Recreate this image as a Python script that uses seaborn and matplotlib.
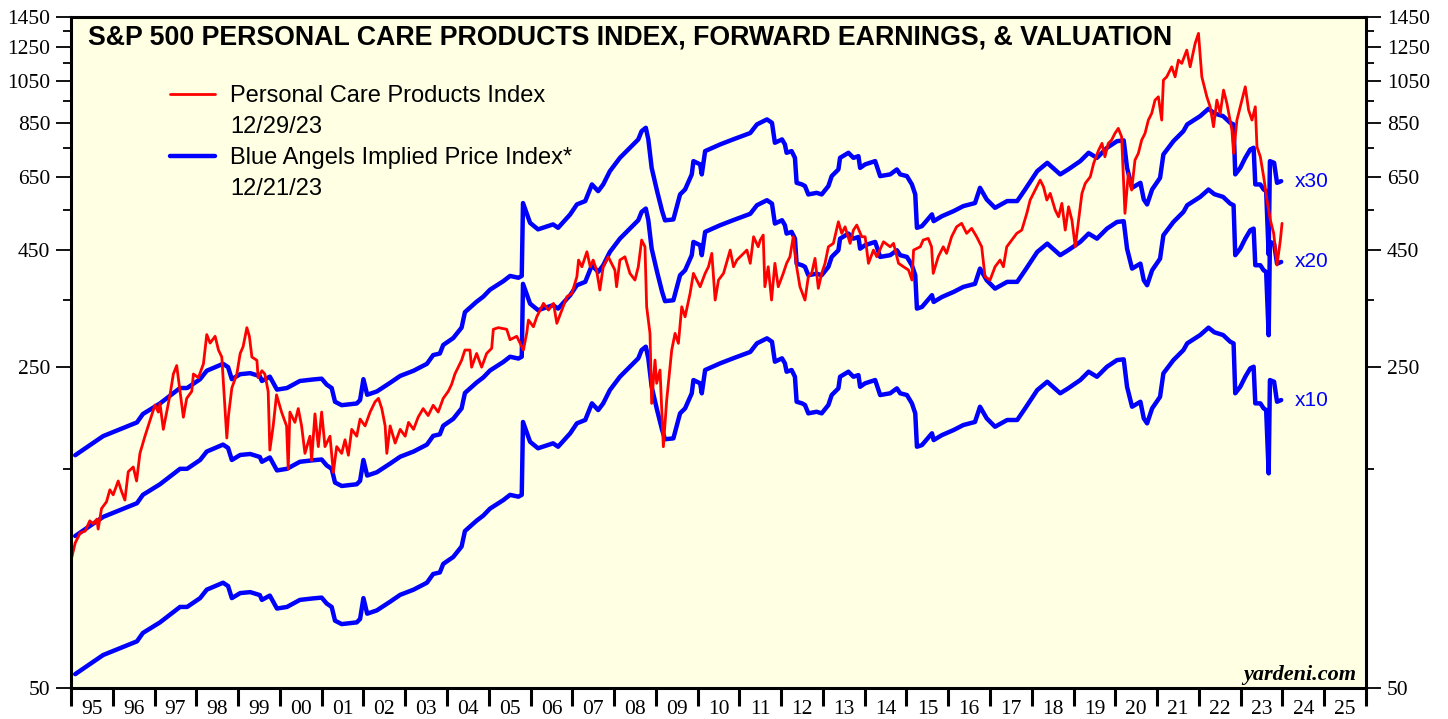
import numpy as np
import pandas as pd
import matplotlib
matplotlib.use('Agg')
import matplotlib.pyplot as plt
import seaborn as sns
from matplotlib.lines import Line2D
from matplotlib.ticker import FixedLocator, FuncFormatter, NullFormatter

# S&P 500 Personal Care Products index (decimal years)
red_year = [
    1995.02, 1995.10, 1995.22, 1995.34, 1995.45, 1995.53, 1995.62, 1995.65, 1995.73, 1995.85,
    1995.93, 1996.01, 1996.13, 1996.21, 1996.29, 1996.37, 1996.49, 1996.57, 1996.65, 1996.77,
    1996.85, 1997.01, 1997.09, 1997.13, 1997.21, 1997.29, 1997.37, 1997.45, 1997.53, 1997.61,
    1997.69, 1997.77, 1997.89, 1997.93, 1998.05, 1998.17, 1998.25, 1998.33, 1998.45, 1998.53,
    1998.61, 1998.69, 1998.73, 1998.77, 1998.85, 1998.97, 1999.05, 1999.12, 1999.21, 1999.27,
    1999.33, 1999.45, 1999.48, 1999.57, 1999.64, 1999.72, 1999.76, 1999.84, 1999.92, 2000.04,
    2000.16, 2000.20, 2000.24, 2000.36, 2000.44, 2000.52, 2000.60, 2000.72, 2000.76, 2000.84,
    2000.92, 2001.00, 2001.08, 2001.20, 2001.28, 2001.36, 2001.48, 2001.56, 2001.64, 2001.72,
    2001.84, 2001.92, 2002.04, 2002.16, 2002.28, 2002.36, 2002.44, 2002.52, 2002.56, 2002.64,
    2002.76, 2002.88, 2003.00, 2003.08, 2003.20, 2003.31, 2003.43, 2003.55, 2003.67, 2003.79,
    2003.91, 2004.03, 2004.11, 2004.19, 2004.27, 2004.35, 2004.43, 2004.55, 2004.59, 2004.71,
    2004.83, 2004.95, 2005.07, 2005.11, 2005.23, 2005.43, 2005.51, 2005.67, 2005.75, 2005.83,
    2005.91, 2005.95, 2006.07, 2006.15, 2006.31, 2006.43, 2006.55, 2006.63, 2006.75, 2006.87,
    2006.99, 2007.11, 2007.15, 2007.23, 2007.35, 2007.43, 2007.50, 2007.58, 2007.66, 2007.74,
    2007.86, 2007.94, 2008.02, 2008.06, 2008.14, 2008.26, 2008.38, 2008.50, 2008.58, 2008.66,
    2008.74, 2008.78, 2008.86, 2008.90, 2008.98, 2009.02, 2009.10, 2009.18, 2009.26, 2009.38,
    2009.46, 2009.54, 2009.62, 2009.70, 2009.82, 2009.90, 2010.06, 2010.18, 2010.26, 2010.34,
    2010.42, 2010.50, 2010.62, 2010.78, 2010.86, 2010.94, 2011.02, 2011.18, 2011.26, 2011.34,
    2011.45, 2011.50, 2011.57, 2011.61, 2011.69, 2011.77, 2011.85, 2011.93, 2012.05, 2012.13,
    2012.21, 2012.29, 2012.37, 2012.45, 2012.57, 2012.65, 2012.73, 2012.81, 2012.89, 2012.97,
    2013.05, 2013.13, 2013.25, 2013.37, 2013.45, 2013.53, 2013.65, 2013.73, 2013.81, 2013.93,
    2014.01, 2014.09, 2014.21, 2014.29, 2014.45, 2014.61, 2014.69, 2014.81, 2014.93, 2015.05,
    2015.13, 2015.17, 2015.33, 2015.40, 2015.52, 2015.60, 2015.64, 2015.76, 2015.88, 2015.96,
    2016.08, 2016.20, 2016.32, 2016.44, 2016.56, 2016.68, 2016.80, 2016.88, 2017.00, 2017.12,
    2017.24, 2017.32, 2017.40, 2017.52, 2017.64, 2017.76, 2017.88, 2017.96, 2018.08, 2018.20,
    2018.28, 2018.36, 2018.44, 2018.56, 2018.64, 2018.72, 2018.80, 2018.88, 2018.96, 2019.04,
    2019.12, 2019.20, 2019.28, 2019.40, 2019.48, 2019.60, 2019.68, 2019.75, 2019.83, 2019.91,
    2019.99, 2020.07, 2020.15, 2020.23, 2020.31, 2020.39, 2020.47, 2020.55, 2020.63, 2020.71,
    2020.79, 2020.87, 2020.95, 2021.03, 2021.11, 2021.15, 2021.23, 2021.35, 2021.43, 2021.51,
    2021.59, 2021.71, 2021.79, 2021.91, 2021.99, 2022.07, 2022.19, 2022.27, 2022.35, 2022.43,
    2022.51, 2022.59, 2022.67, 2022.79, 2022.83, 2022.91, 2023.03, 2023.11, 2023.19, 2023.27,
    2023.35, 2023.39, 2023.47, 2023.55, 2023.63, 2023.71, 2023.79, 2023.87, 2023.95, 2023.99,
]
red_price = [
    96.5, 103.5, 108.9, 109.9, 115.7, 113.9, 116.7, 111.0, 123.0, 127.3,
    135.2, 131.8, 141.3, 134.1, 128.4, 148.0, 151.6, 141.3, 162.3, 176.9,
    186.3, 206.9, 199.7, 208.5, 183.1, 199.7, 217.7, 241.7, 252.2, 221.5,
    194.6, 213.9, 221.5, 241.7, 237.3, 254.4, 294.6, 282.3, 292.1, 272.6,
    263.2, 199.7, 175.3, 196.2, 225.3, 241.7, 268.0, 277.3, 305.0, 292.1,
    263.2, 258.9, 237.3, 245.7, 241.7, 221.5, 165.0, 186.3, 217.7, 199.7,
    186.3, 150.0, 199.7, 189.6, 203.2, 186.3, 162.3, 176.9, 156.7, 197.9,
    167.9, 199.7, 167.9, 176.9, 147.5, 167.9, 162.3, 173.8, 160.8, 183.1,
    176.9, 192.8, 186.3, 199.7, 210.3, 213.9, 203.2, 186.3, 162.3, 186.3,
    170.9, 183.1, 176.9, 189.6, 183.1, 194.6, 203.2, 196.2, 206.6, 199.7,
    213.9, 221.5, 229.3, 241.7, 250.1, 258.9, 272.6, 272.6, 250.1, 268.0,
    250.1, 268.0, 274.9, 302.5, 305.0, 302.5, 287.1, 292.1, 282.2, 272.6,
    297.2, 316.9, 306.4, 322.1, 344.5, 333.2, 344.5, 311.7, 333.2, 356.1,
    362.3, 393.8, 428.2, 414.0, 446.4, 414.0, 428.2, 407.2, 368.4, 414.0,
    435.3, 421.2, 407.2, 374.5, 428.2, 435.3, 400.5, 387.3, 414.0, 473.4,
    457.7, 338.7, 296.4, 208.6, 259.2, 230.7, 246.6, 167.8, 212.1, 272.6,
    296.4, 281.9, 338.7, 322.1, 362.3, 400.5, 374.5, 400.5, 414.0, 442.8,
    350.3, 387.3, 400.5, 450.2, 414.0, 428.2, 435.3, 450.2, 421.2, 481.3,
    457.7, 473.4, 485.4, 374.5, 414.0, 350.3, 421.2, 374.5, 400.5, 421.2,
    435.3, 481.3, 414.0, 374.5, 350.3, 393.8, 400.5, 431.8, 371.5, 400.5,
    421.2, 457.7, 465.6, 518.9, 489.6, 506.0, 465.6, 497.7, 510.4, 481.3,
    481.3, 421.2, 450.2, 435.3, 469.3, 457.7, 465.6, 421.2, 414.0, 407.2,
    387.3, 450.2, 457.7, 473.4, 477.4, 457.7, 400.5, 435.3, 457.7, 442.8,
    481.3, 506.0, 514.8, 489.6, 502.0, 481.3, 457.7, 393.8, 387.3, 414.0,
    428.2, 414.0, 457.7, 473.4, 489.6, 497.7, 541.3, 578.6, 608.4, 639.7,
    618.5, 578.6, 598.4, 550.3, 532.1, 569.1, 497.7, 559.5, 523.3, 457.7,
    523.3, 598.4, 629.2, 650.4, 695.6, 743.6, 769.0, 719.1, 769.0, 781.9,
    808.6, 829.2, 794.9, 541.3, 661.5, 608.4, 707.2, 731.4, 781.9, 808.6,
    864.4, 893.9, 955.6, 971.6, 864.4, 1056.5, 1074.1, 1129.4, 1074.1, 1168.0,
    1148.9, 1228.1, 1129.4, 1270.1, 1335.5, 1074.1, 971.6, 924.0, 835.9, 955.6,
    893.9, 1004.7, 940.0, 822.1, 731.4, 864.4, 955.6, 1021.5, 908.9, 864.4,
    924.0, 756.0, 719.1, 650.4, 578.6, 523.3, 489.6, 417.6, 473.4, 514.8,
]

# forward earnings (the x1 line); the blue lines are this times 10, 20 and 30
eps_year = [
    1995.10, 1995.77, 1996.58, 1996.72, 1997.13, 1997.61, 1997.78, 1998.09, 1998.25, 1998.64,
    1998.76, 1998.85, 1999.05, 1999.29, 1999.52, 1999.57, 1999.76, 1999.93, 2000.17, 2000.48,
    2000.80, 2001.00, 2001.12, 2001.24, 2001.32, 2001.48, 2001.84, 2001.92, 2002.00, 2002.09,
    2002.32, 2002.64, 2002.88, 2003.20, 2003.52, 2003.67, 2003.83, 2003.91, 2004.15, 2004.35,
    2004.43, 2004.71, 2004.87, 2005.03, 2005.35, 2005.51, 2005.71, 2005.79, 2005.82, 2005.99,
    2006.18, 2006.54, 2006.66, 2006.95, 2007.11, 2007.31, 2007.47, 2007.62, 2007.74, 2007.90,
    2008.14, 2008.38, 2008.58, 2008.66, 2008.76, 2008.82, 2008.90, 2009.03, 2009.15, 2009.22,
    2009.42, 2009.58, 2009.70, 2009.86, 2009.90, 2010.06, 2010.10, 2010.18, 2010.54, 2010.85,
    2011.26, 2011.42, 2011.66, 2011.78, 2011.85, 2012.02, 2012.09, 2012.13, 2012.25, 2012.33,
    2012.37, 2012.50, 2012.57, 2012.65, 2012.85, 2012.97, 2013.13, 2013.21, 2013.37, 2013.41,
    2013.61, 2013.73, 2013.85, 2013.89, 2014.01, 2014.25, 2014.37, 2014.61, 2014.77, 2014.85,
    2015.01, 2015.13, 2015.21, 2015.25, 2015.37, 2015.61, 2015.65, 2015.85, 2016.13, 2016.36,
    2016.64, 2016.76, 2016.92, 2017.12, 2017.41, 2017.65, 2017.84, 2018.13, 2018.37, 2018.68,
    2018.87, 2019.16, 2019.36, 2019.56, 2019.80, 2020.04, 2020.20, 2020.28, 2020.40, 2020.60,
    2020.68, 2020.76, 2020.88, 2021.07, 2021.15, 2021.39, 2021.63, 2021.72, 2022.03, 2022.23,
    2022.37, 2022.58, 2022.75, 2022.83, 2022.87, 2022.99, 2023.11, 2023.23, 2023.31, 2023.35,
    2023.47, 2023.55, 2023.61, 2023.67, 2023.70, 2023.80, 2023.87, 2023.97,
]
fwd_eps = [
    5.36, 5.90, 6.32, 6.59, 6.95, 7.51, 7.51, 7.85, 8.19, 8.48,
    8.34, 7.85, 8.05, 8.09, 7.97, 7.78, 7.95, 7.45, 7.51, 7.78,
    7.84, 7.87, 7.64, 7.51, 7.01, 6.89, 6.95, 7.07, 7.85, 7.26,
    7.38, 7.71, 7.98, 8.19, 8.48, 8.86, 8.93, 9.32, 9.65, 10.17,
    10.99, 11.58, 11.88, 12.30, 12.84, 13.18, 13.06, 13.18, 19.00, 17.20,
    16.65, 17.07, 16.78, 17.95, 18.87, 19.19, 20.86, 20.17, 20.86, 22.30,
    23.84, 25.07, 26.15, 27.26, 27.72, 26.15, 22.67, 20.17, 18.25, 17.42,
    17.50, 19.84, 20.34, 21.94, 23.45, 23.07, 21.94, 24.66, 25.50, 26.15,
    27.00, 28.19, 28.91, 28.42, 25.71, 26.15, 25.50, 24.45, 24.66, 23.84,
    21.03, 20.86, 20.69, 19.84, 20.00, 19.84, 20.69, 21.75, 22.49, 23.84,
    24.45, 23.84, 24.04, 22.67, 23.07, 23.45, 21.75, 21.94, 22.49, 21.94,
    21.75, 20.86, 19.84, 16.78, 16.92, 17.95, 17.35, 17.79, 18.25, 18.71,
    19.00, 20.51, 19.35, 18.55, 19.19, 19.19, 20.34, 22.30, 23.25, 21.94,
    22.49, 23.45, 24.45, 23.84, 25.07, 25.92, 26.02, 22.67, 20.51, 21.03,
    19.35, 18.87, 20.34, 21.56, 24.25, 25.92, 27.26, 28.19, 29.39, 30.50,
    29.80, 29.39, 28.42, 28.19, 21.94, 22.67, 23.84, 24.87, 25.07, 20.86,
    20.86, 20.34, 20.17, 14.68, 23.45, 23.25, 21.03, 21.21,
]
multiples = [10, 20, 30]

title = 'S&P 500 PERSONAL CARE PRODUCTS INDEX, FORWARD EARNINGS, & VALUATION'
red_label = 'Personal Care Products Index'
red_date = '12/29/23'
blue_label = 'Blue Angels Implied Price Index*'
blue_date = '12/21/23'

RED = '#FF0000'
BLUE = '#0000FF'

sns.set_style('ticks')
plt.rcParams['font.family'] = ['Liberation Sans', 'DejaVu Sans']
plt.rcParams['text.color'] = 'black'
plt.rcParams['axes.edgecolor'] = 'black'
plt.rcParams['xtick.color'] = 'black'
plt.rcParams['ytick.color'] = 'black'

W, H = 1448, 719
fig = plt.figure(figsize=(W / 100, H / 100), dpi=100)
ax = fig.add_axes([71 / W, 1 - 688 / H, 1295 / W, 671 / H])
ax.set_facecolor('#FFFFE3')

blue_df = pd.concat([
    pd.DataFrame({'year': eps_year, 'price': np.array(fwd_eps) * m, 'multiple': f'x{m}'})
    for m in multiples
], ignore_index=True)
sns.lineplot(data=blue_df, x='year', y='price', units='multiple', estimator=None,
             sort=False, color=BLUE, lw=3.2, legend=False, ax=ax)

red_df = pd.DataFrame({'year': red_year, 'price': red_price})
sns.lineplot(data=red_df, x='year', y='price', estimator=None, sort=False,
             color=RED, lw=2.0, legend=False, ax=ax)

ax.set_yscale('log')
ax.set_ylim(50, 1450)
ax.set_xlim(1995, 2026)
ax.set_xlabel('')
ax.set_ylabel('')

# y axis: labels every 200, minor ticks in between, both sides
ax.yaxis.set_major_locator(FixedLocator(np.arange(50, 1451, 200)))
ax.yaxis.set_major_formatter(FuncFormatter(lambda v, p: f'{v:.0f}'))
ax.yaxis.set_minor_locator(FixedLocator(np.arange(150, 1351, 200)))
ax.yaxis.set_minor_formatter(NullFormatter())
ax.tick_params(axis='y', which='both', direction='out', left=True, right=True,
               labelleft=True, labelright=True, labelsize=15.5, labelcolor='black',
               labelfontfamily='Liberation Serif', width=1.3)
ax.tick_params(axis='y', which='major', length=11, pad=4)
ax.tick_params(axis='y', which='minor', length=5.5)

# x axis: ticks at year boundaries, labels centred in each year
ax.xaxis.set_major_locator(FixedLocator(np.arange(1995, 2027)))
ax.xaxis.set_major_formatter(NullFormatter())
ax.xaxis.set_minor_locator(FixedLocator(np.arange(1995, 2026) + 0.5))
ax.xaxis.set_minor_formatter(FuncFormatter(lambda v, p: f'{int(v) % 100:02d}'))
ax.tick_params(axis='x', which='major', direction='out', length=13, width=2.2)
ax.tick_params(axis='x', which='minor', length=0, pad=9, labelsize=15.5,
               labelcolor='black', labelfontfamily='Liberation Serif')

for s in ax.spines.values():
    s.set_linewidth(2.2)
    s.set_color('black')

ax.text(0.0131, 0.970, title, transform=ax.transAxes, fontsize=19.3,
        fontweight='bold', va='center', ha='left', color='black')

handles = [Line2D([], [], color=RED, lw=2.0), Line2D([], [], color='none'),
           Line2D([], [], color=BLUE, lw=3.2), Line2D([], [], color='none')]
labels = [red_label, red_date, blue_label, blue_date]
leg = ax.legend(handles, labels, loc='upper left', bbox_to_anchor=(99 / 1295, 1 - 68 / 671),
                frameon=False, fontsize=17, handlelength=1.9, handletextpad=0.65,
                labelspacing=0.38, borderpad=0, borderaxespad=0)
for t in leg.get_texts():
    t.set_color('black')

# multiple labels at the right end of each blue line
for m in multiples:
    ax.text(eps_year[-1] + 0.33, fwd_eps[-1] * m, f'x{m}', color=BLUE,
            fontsize=15, va='center', ha='left')

ax.text(0.9923, 0.019, 'yardeni.com', transform=ax.transAxes, ha='right', va='center',
        fontsize=16, fontweight='bold', fontstyle='italic', family='Liberation Serif',
        color='black')

fig.savefig('out.png', dpi=100)
